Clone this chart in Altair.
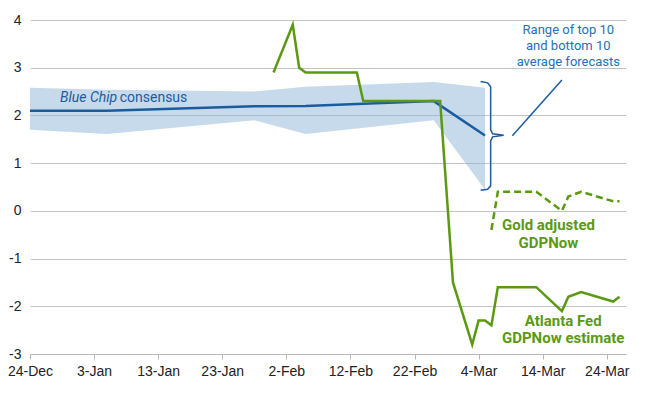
import altair as alt
import pandas as pd

# ---- data ----
bc_dates = ["2024-12-24", "2025-01-05", "2025-01-28", "2025-02-05", "2025-02-25", "2025-03-05"]
bc_mean = [2.10, 2.10, 2.19, 2.20, 2.30, 1.58]
bc_top = [2.58, 2.54, 2.50, 2.60, 2.70, 2.58]
bc_bottom = [1.70, 1.61, 1.90, 1.61, 1.90, 0.45]

gdp_dates = ["2025-01-31", "2025-02-03", "2025-02-04", "2025-02-05", "2025-02-13", "2025-02-14",
             "2025-02-26", "2025-02-28", "2025-03-03", "2025-03-04", "2025-03-05", "2025-03-06",
             "2025-03-07", "2025-03-13", "2025-03-17", "2025-03-18", "2025-03-20", "2025-03-25",
             "2025-03-26"]
gdp_vals = [2.9, 3.9, 3.0, 2.9, 2.9, 2.3, 2.3, -1.5, -2.8, -2.3, -2.3, -2.4,
            -1.6, -1.6, -2.1, -1.8, -1.7, -1.9, -1.8]

gold_dates = ["2025-03-06", "2025-03-07", "2025-03-13", "2025-03-17", "2025-03-18",
              "2025-03-20", "2025-03-25", "2025-03-26"]
gold_vals = [-0.4, 0.4, 0.4, 0.0, 0.3, 0.4, 0.2, 0.2]

y_ticks = [-3, -2, -1, 0, 1, 2, 3, 4]

BLUE = "#1b5c9e"
TXT_BLUE = "#2471b3"
GREEN = "#5b9913"

base = pd.Timestamp("2024-12-24")


def day(d):
    return base + pd.to_timedelta(d, unit="D")


bc = pd.DataFrame({"date": pd.to_datetime(bc_dates), "val": bc_mean,
                   "top": bc_top, "bottom": bc_bottom})
gdp = pd.DataFrame({"date": pd.to_datetime(gdp_dates), "val": gdp_vals})
gold = pd.DataFrame({"date": pd.to_datetime(gold_dates), "val": gold_vals})

tick_vals = []
for k in range(10):
    t = day(10 * k)
    tick_vals.append(alt.DateTime(year=t.year, month=t.month, date=t.day))

x_scale = alt.Scale(domain=[alt.DateTime(year=2024, month=12, date=24),
                            alt.DateTime(year=2025, month=3, date=27)])
y_scale = alt.Scale(domain=[-3, 4], nice=False, zero=False)

x_axis = alt.Axis(values=tick_vals, format="%-d-%b", grid=False, domain=True,
                  domainColor="#b5b5b5", ticks=True, tickColor="#b5b5b5", tickSize=5,
                  labelFont="Liberation Sans", labelFontSize=14, labelColor="#222222",
                  labelPadding=5, title=None, labelOverlap=False, labelFlush=False)
y_axis = alt.Axis(values=y_ticks, grid=True, gridColor="#c3c3c3", gridWidth=1,
                  domain=False, ticks=False, labelFont="Liberation Sans",
                  labelExpr="'' + datum.value",
                  labelFontSize=14, labelColor="#222222", labelPadding=9, title=None)


def X():
    return alt.X("date:T", scale=x_scale, axis=x_axis)


def Y(field="val"):
    return alt.Y(f"{field}:Q", scale=y_scale, axis=y_axis)


band = alt.Chart(bc).mark_area(color="#8db5d8", opacity=0.5).encode(
    x=X(), y=Y("bottom"), y2="top:Q")
bc_line = alt.Chart(bc).mark_line(color=BLUE, strokeWidth=2.5).encode(x=X(), y=Y())
gdp_line = alt.Chart(gdp).mark_line(color=GREEN, strokeWidth=2.5).encode(x=X(), y=Y())
gold_line = alt.Chart(gold).mark_line(color=GREEN, strokeWidth=2.5,
                                      strokeDash=[7, 4]).encode(x=X(), y=Y())

# brace "}" around the range at the last Blue Chip point
brace_days = [70.31, 71.41, 71.88, 71.88, 72.19, 73.91, 72.19, 71.88, 71.88, 71.41, 70.31]
brace_vals = [2.71, 2.683, 2.60, 1.698, 1.614, 1.583, 1.551, 1.467, 0.524, 0.451, 0.43]
brace = pd.DataFrame({"date": [day(d) for d in brace_days], "val": brace_vals,
                      "i": list(range(len(brace_days)))})
brace_line = alt.Chart(brace).mark_line(color=BLUE, strokeWidth=1.5).encode(
    x=X(), y=Y(), order="i:Q")

leader = pd.DataFrame({"date": [day(75.27), day(83.0)], "val": [1.572, 2.74], "i": [0, 1]})
leader_line = alt.Chart(leader).mark_line(color=BLUE, strokeWidth=1.5).encode(
    x=X(), y=Y(), order="i:Q")


def text_layer(days, vals, labels, **kw):
    df = pd.DataFrame({"date": [day(d) for d in days], "val": vals, "label": labels})
    return alt.Chart(df).mark_text(baseline="alphabetic", **kw).encode(
        x=X(), y=Y(), text="label:N")


t_blue = text_layer([4.69], [2.285], ["Blue Chip"], align="left", font="Roboto",
                    fontSize=14, fontStyle="italic", color=BLUE)
t_cons = text_layer([14.0], [2.285], ["consensus"], align="left", font="Roboto",
                    fontSize=14, color=BLUE)
t_range = text_layer([84.0, 84.0, 84.0], [3.704, 3.368, 3.039],
                     ["Range of top 10", "and bottom 10", "average forecasts"],
                     align="center", font="Roboto", fontSize=13, color=TXT_BLUE)
t_gold = text_layer([80.9, 80.9], [-0.405, -0.769], ["Gold adjusted", "GDPNow"],
                    align="center", font="Roboto", fontSize=15, fontWeight="bold",
                    color=GREEN)
t_atl = text_layer([83.2, 83.2], [-2.41, -2.773], ["Atlanta Fed", "GDPNow estimate"],
                   align="center", font="Roboto", fontSize=15, fontWeight="bold",
                   color=GREEN)

chart = alt.layer(
    band, bc_line, gdp_line, gold_line, brace_line, leader_line,
    t_blue, t_cons, t_range, t_gold, t_atl
).properties(
    width=596, height=334,
    autosize=alt.AutoSizeParams(type="none"),
    padding={"left": 22, "top": 12, "right": 30, "bottom": 30},
    background="white",
).configure_view(stroke=None)

chart.save("out.html", embed_options={"renderer": "svg", "actions": False})
